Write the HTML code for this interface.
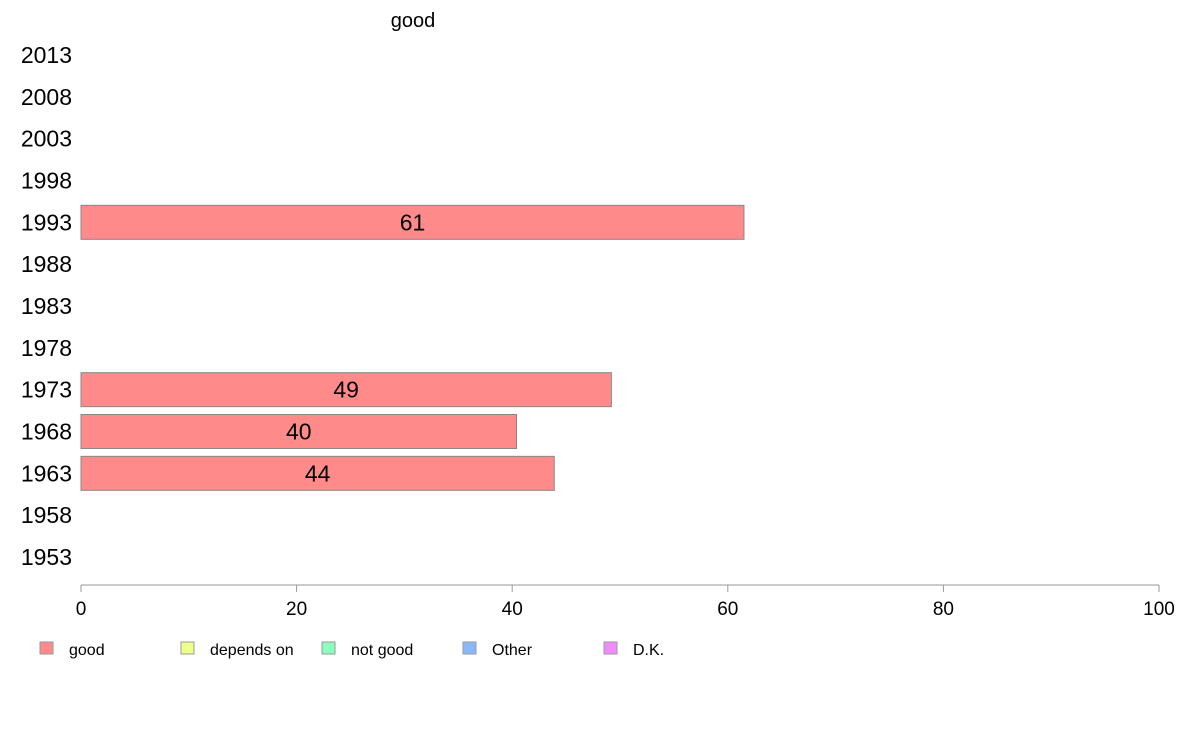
<!DOCTYPE html>
<html><head><meta charset="utf-8"><style>
body{margin:0;background:#fff;font-family:"Liberation Sans",Arial,sans-serif;}
</style></head><body>
<svg id="c" width="1188" height="736" xmlns="http://www.w3.org/2000/svg">
<text x="413" y="27" font-size="20" text-anchor="middle">good</text>
</svg>
<script>
const years=["2013","2008","2003","1998","1993","1988","1983","1978","1973","1968","1963","1958","1953"];
const values=[null,null,null,null,61.5,null,null,null,49.2,40.4,43.9,null,null];
const labels=["","","","","61","","","","49","40","44","",""];
const ticks=[0,20,40,60,80,100];
const legendNames=["good","depends on","not good","Other","D.K."];
const legendColors=["#ff8a8a","#eeff8a","#8affbe","#8ab8ff","#f08aff"];
const svg=document.getElementById('c');const NS="http://www.w3.org/2000/svg";
const x=v=>81+v*(1159-81)/100;
const y=i=>55+i*(557-55)/(years.length-1);
function mk(t,a){const e=document.createElementNS(NS,t);for(const k in a)e.setAttribute(k,a[k]);svg.appendChild(e);return e;}
years.forEach((yr,i)=>{
 const t=mk('text',{x:72,y:y(i)+8,'font-size':23,'text-anchor':'end'});t.textContent=yr;
 
 
 if(values[i]!=null){
  const r=mk('rect',{x:x(0),y:y(i)-17,width:x(values[i])-x(0),height:34,fill:'#ff8a8a',stroke:'#888','stroke-width':1});
  
  
  const l=mk('text',{x:(x(0)+x(values[i]))/2,y:y(i)+8,'font-size':23,'text-anchor':'middle'});l.textContent=labels[i];
  
  
 }
});
const ax=mk('line',{x1:x(0),x2:x(100),y1:585,y2:585,stroke:'#999'});


ticks.forEach(v=>{
 const tl=mk('line',{x1:x(v),x2:x(v),y1:585,y2:592,stroke:'#999'});
 
 
 const t=mk('text',{x:x(v),y:615,'font-size':19,'text-anchor':'middle'});t.textContent=v;
 
 
});
legendNames.forEach((n,i)=>{
 const lx=40+i*141;
 const r=mk('rect',{x:lx,y:642,width:13,height:12,fill:legendColors[i],stroke:'#999'});
 
 
 const t=mk('text',{x:lx+29,y:655,'font-size':16});t.textContent=n;
 
 
});
</script>
</body></html>
